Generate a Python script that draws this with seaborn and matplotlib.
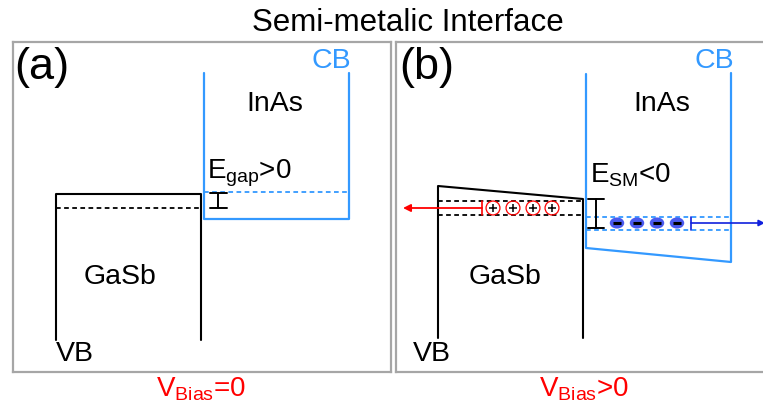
import matplotlib
matplotlib.use("Agg")
import matplotlib.pyplot as plt
import matplotlib.markers as mmarkers
from matplotlib.transforms import Affine2D
import seaborn as sns

# ---- band diagram values (pixel units, y down) ----
# (a) V_bias = 0
gasb_x_a = [56, 56, 201, 201]
gasb_y_a = [340, 194, 194, 340]
gasb_fermi_a = [208]
inas_x_a = [204, 204, 349, 349]
inas_y_a = [73, 219, 219, 73]
inas_fermi_a = [192]
gap_bar_a = [193, 208]

# (b) V_bias > 0
gasb_x_b = [438, 438, 583, 583]
gasb_y_b = [338, 186, 199, 338]
gasb_fermi_b = [201, 215]
inas_x_b = [586, 586, 731, 731]
inas_y_b = [74, 248, 262, 73]
inas_fermi_b = [217, 230]
gap_bar_b = [199, 228]

holes_x = [493, 513, 533, 552]
holes_y = [208, 208, 208, 208]
electrons_x = [617, 637, 657, 677]
electrons_y = [223, 223, 223, 223]

W, H = 763, 403
BLUE = "#3399ff"
GRAY = "#a6a6a6"

sns.set_style("white")
plt.rcParams["font.family"] = ["Liberation Sans", "DejaVu Sans"]
plt.rcParams["mathtext.default"] = "regular"
plt.rcParams["text.color"] = "black"

fig = plt.figure(figsize=(W / 100, H / 100), dpi=100)


def panel(x0, x1, y0, y1):
    ax = fig.add_axes([x0 / W, 1 - y1 / H, (x1 - x0) / W, (y1 - y0) / H])
    ax.set_xlim(x0, x1)
    ax.set_ylim(y1, y0)
    ax.set_xticks([])
    ax.set_yticks([])
    for s in ax.spines.values():
        s.set_color(GRAY)
        s.set_linewidth(1.6)
    return ax


ax_a = panel(13, 391, 42, 372)
ax_b = panel(396, 775, 42, 372)
ax_b.spines["right"].set_visible(False)

dash = (2.6, 1.9)
FS = 20.5
FS_SUB = 20

# ---------------- panel (a) ----------------
sns.lineplot(x=gasb_x_a, y=gasb_y_a, sort=False, estimator=None,
             color="black", linewidth=1.5, ax=ax_a)
sns.lineplot(x=inas_x_a, y=inas_y_a, sort=False, estimator=None,
             color=BLUE, linewidth=1.6, ax=ax_a)
for yv in gasb_fermi_a:
    ax_a.plot([gasb_x_a[0], gasb_x_a[-1]], [yv, yv], color="black",
              lw=1.3, dashes=dash)
for yv in inas_fermi_a:
    ax_a.plot([inas_x_a[0], inas_x_a[-1]], [yv, yv], color=BLUE,
              lw=1.3, dashes=dash)
ax_a.plot([218, 218], gap_bar_a, color="black", lw=1.4)
for yv in gap_bar_a:
    ax_a.plot([210, 227], [yv, yv], color="black", lw=1.4)

ax_a.text(14, 67, "(a)", fontsize=32.5, ha="left", va="center")
ax_a.text(351, 61, "CB", fontsize=FS, color=BLUE, ha="right", va="center")
ax_a.text(275, 104, "InAs", fontsize=FS, ha="center", va="center")
ax_a.text(207, 178, "E$_{gap}$>0", fontsize=FS_SUB, ha="left", va="baseline")
ax_a.text(120, 277, "GaSb", fontsize=FS, ha="center", va="center")
ax_a.text(56, 354, "VB", fontsize=FS, ha="left", va="center")
ax_a.text(201, 389, "V$_{Bias}$=0", fontsize=FS_SUB, color="red",
          ha="center", va="center", clip_on=False)

# ---------------- panel (b) ----------------
sns.lineplot(x=gasb_x_b, y=gasb_y_b, sort=False, estimator=None,
             color="black", linewidth=1.5, ax=ax_b)
sns.lineplot(x=inas_x_b, y=inas_y_b, sort=False, estimator=None,
             color=BLUE, linewidth=1.6, ax=ax_b)
for yv in gasb_fermi_b:
    ax_b.plot([gasb_x_b[0], gasb_x_b[-1]], [yv, yv], color="black",
              lw=1.3, dashes=dash)
for yv in inas_fermi_b:
    ax_b.plot([inas_x_b[0], inas_x_b[-1]], [yv, yv], color=BLUE,
              lw=1.3, dashes=dash)
ax_b.plot([596, 596], gap_bar_b, color="black", lw=1.4)
for yv in gap_bar_b:
    ax_b.plot([588, 604], [yv, yv], color="black", lw=1.4)

# holes drifting left
ax_b.plot([482, 482], gasb_fermi_b, color="red", lw=1.2)
ax_b.annotate("", xy=(403, holes_y[0]), xytext=(482, holes_y[0]),
              arrowprops=dict(arrowstyle="-|>", color="red", lw=1.3,
                              mutation_scale=11, shrinkA=0, shrinkB=0))
sns.scatterplot(x=holes_x, y=holes_y, s=100, marker="o", facecolor="none",
                edgecolor="red", linewidth=0.9, ax=ax_b, zorder=4)
sns.scatterplot(x=holes_x, y=holes_y, s=40, marker="+", color="black",
                linewidth=1.1, ax=ax_b, zorder=5)

# electrons drifting right
ax_b.plot([691, 691], inas_fermi_b, color="#1020dd", lw=1.2)
ax_b.annotate("", xy=(765, electrons_y[0]), xytext=(691, electrons_y[0]),
              arrowprops=dict(arrowstyle="-|>", color="#1020dd", lw=1.2,
                              mutation_scale=9, shrinkA=0, shrinkB=0),
              annotation_clip=False)
ell = mmarkers.MarkerStyle("o", transform=Affine2D().scale(1.3, 1.0))
sns.scatterplot(x=electrons_x, y=electrons_y, s=64, marker=ell,
                color="#4a5af0", edgecolor="none", ax=ax_b, zorder=4)
sns.scatterplot(x=electrons_x, y=electrons_y, s=30, marker="_",
                color="black", linewidth=2.2, ax=ax_b, zorder=5)

ax_b.text(399, 67, "(b)", fontsize=32.5, ha="left", va="center")
ax_b.text(734, 61, "CB", fontsize=FS, color=BLUE, ha="right", va="center")
ax_b.text(662, 104, "InAs", fontsize=FS, ha="center", va="center")
ax_b.text(590, 182, "E$_{SM}$<0", fontsize=FS_SUB, ha="left", va="baseline")
ax_b.text(505, 277, "GaSb", fontsize=FS, ha="center", va="center")
ax_b.text(413, 354, "VB", fontsize=FS, ha="left", va="center")
ax_b.text(584, 389, "V$_{Bias}$>0", fontsize=FS_SUB, color="red",
          ha="center", va="center", clip_on=False)

fig.text(408 / W, 1 - 23 / H, "Semi-metalic Interface", fontsize=22.5,
         ha="center", va="center")

fig.savefig("out.png", dpi=100)
